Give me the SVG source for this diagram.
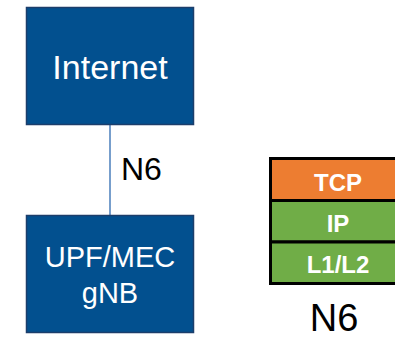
<svg xmlns="http://www.w3.org/2000/svg" width="395" height="338" viewBox="0 0 395 338">
  <style>
    .box { fill: #02508F; stroke: #1C3E6B; stroke-width: 1.5; }
    .boxText { font-family: "Liberation Sans", Arial, sans-serif; fill: #ffffff; text-anchor: middle; }
    .label { font-family: "Liberation Sans", Arial, sans-serif; fill: #000000; }
    .layer { stroke: #000000; stroke-width: 3; }
    .layerText { font-family: "Liberation Sans", Arial, sans-serif; font-weight: bold; font-size: 24px; fill: #ffffff; text-anchor: middle; }
    .link { stroke: #4A7EBB; stroke-width: 1.5; fill: none; }
  </style>
  <rect width="395" height="338" fill="#ffffff"/>

  <!-- connectors -->
  <g id="connectors">
    <line class="link" x1="110" y1="125" x2="110" y2="215"/>
    <text class="label" x="121" y="180" font-size="32">N6</text>
  </g>

  <!-- Internet node -->
  <g id="internet">
    <rect class="box" x="26.5" y="7.5" width="167" height="117"/>
    <text class="boxText" x="110" y="79" font-size="34">Internet</text>
  </g>

  <!-- UPF/MEC gNB node -->
  <g id="upf-mec-gnb">
    <rect class="box" x="26.5" y="215.5" width="167" height="117"/>
    <text class="boxText" x="110" y="267" font-size="29">UPF/MEC</text>
    <text class="boxText" x="110" y="303" font-size="29">gNB</text>
  </g>

  <!-- N6 protocol stack -->
  <g id="n6-stack">
    <rect class="layer" x="270.5" y="158.5" width="140" height="42" fill="#ED7D31"/>
    <rect class="layer" x="270.5" y="200.5" width="140" height="41.5" fill="#70AD47"/>
    <rect class="layer" x="270.5" y="242" width="140" height="41.5" fill="#70AD47"/>
    <text class="layerText" x="338" y="191">TCP</text>
    <text class="layerText" x="338" y="232">IP</text>
    <text class="layerText" x="338" y="273">L1/L2</text>
    <text class="label" x="334" y="331" font-size="38" text-anchor="middle">N6</text>
  </g>
</svg>
